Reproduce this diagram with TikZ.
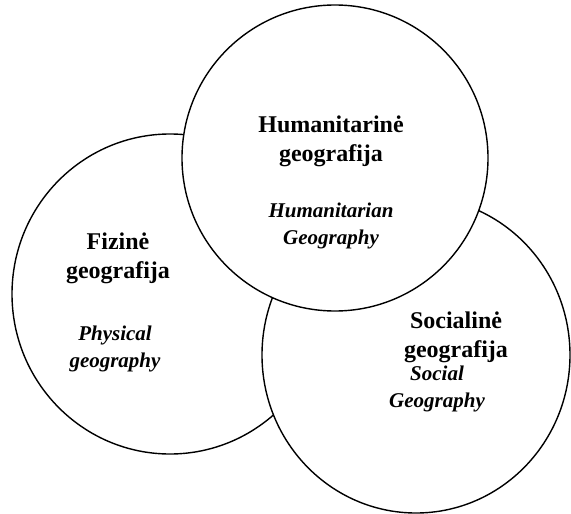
\documentclass[tikz,border=0pt]{standalone}
\usepackage{fontspec}
\setmainfont{Liberation Serif}
\begin{document}
\begin{tikzpicture}[x=1pt, y=-1pt,
        cerchio/.style={draw, line width=1.4pt, fill=white},
        titolo/.style={font=\fontsize{24}{29}\selectfont\bfseries, align=center},
        sottotitolo/.style={font=\fontsize{21}{27}\selectfont\bfseries\itshape, align=center}]
        \useasboundingbox (0,0) rectangle (571,514);

        % Fizine geografija (sotto)
        \path[cerchio] (170,294) ellipse [x radius=158, y radius=160];
        % Socialine geografija
        \path[cerchio] (416,355) ellipse [x radius=154, y radius=158];
        % Humanitarine geografija (sopra)
        \path[cerchio] (335,158) ellipse [x radius=153, y radius=153];

        \node[titolo] (hum) at (331,141) {Humanitarinė\\geografija};
        \node[sottotitolo] (humen) at (331,226) {Humanitarian\\Geography};

        \node[titolo] (fis) at (118,258) {Fizinė\\geografija};
        \node[sottotitolo] (fisen) at (115,349) {Physical\\geography};

        \node[titolo] (soc) at (456,337) {Socialinė\\geografija};
        \node[sottotitolo] (socen) at (437,389) {Social\\Geography};
\end{tikzpicture}
\end{document}
